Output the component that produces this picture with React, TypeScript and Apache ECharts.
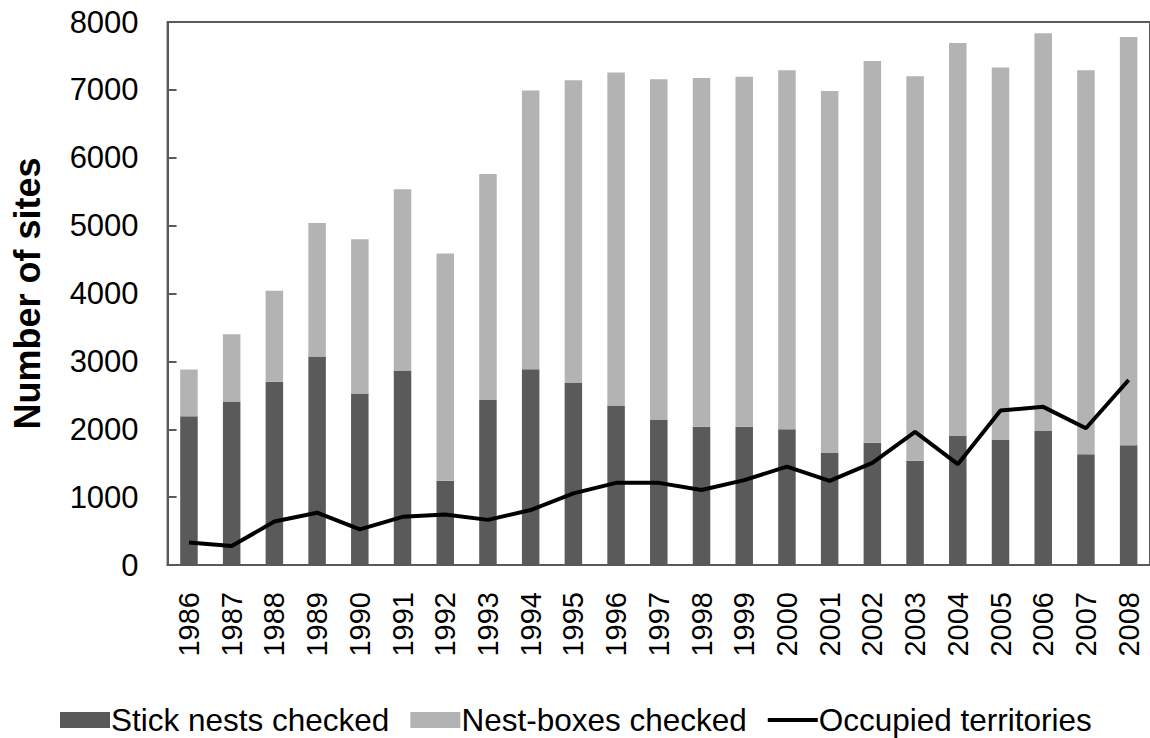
import React, { useEffect, useRef } from "react";
import * as echarts from "echarts";

const years = ["1986","1987","1988","1989","1990","1991","1992","1993","1994","1995","1996","1997","1998","1999","2000","2001","2002","2003","2004","2005","2006","2007","2008"];
const stickNests = [2190, 2410, 2700, 3070, 2525, 2865, 1240, 2430, 2885, 2680, 2350, 2145, 2035, 2035, 2000, 1650, 1800, 1535, 1900, 1840, 1975, 1630, 1765];
const nestBoxes = [690, 990, 1340, 1970, 2275, 2670, 3350, 3330, 4105, 4460, 4905, 5010, 5140, 5160, 5290, 5335, 5625, 5665, 5790, 5490, 5860, 5660, 6015];
const occupied = [330, 280, 640, 770, 525, 710, 745, 665, 810, 1055, 1210, 1210, 1105, 1250, 1450, 1240, 1505, 1960, 1485, 2275, 2330, 2015, 2725];

const FONT = "'Liberation Sans', Arial, sans-serif";
const LINE_ICON = "path://M0,0 L0.01,0 M0,6 L52,6 L52,10 L0,10 Z M0,16 L0.01,16";

export default function App() {
  const ref = useRef<HTMLDivElement>(null);
  useEffect(() => {
    if (!ref.current) return;
    const chart = echarts.init(ref.current, null, { renderer: "svg" });
    chart.setOption({
      animation: false,
      backgroundColor: "#ffffff",
      textStyle: { fontFamily: FONT, color: "#000" },
      grid: {
        left: 167.6,
        right: -2,
        top: 22,
        bottom: 173,
        show: true,
        borderColor: "#5a5a5a",
        borderWidth: 2,
        backgroundColor: "transparent",
      },
      legend: {
        left: 55,
        top: 699,
        itemWidth: 50,
        itemHeight: 16,
        itemGap: 21,
        textStyle: { fontFamily: FONT, fontSize: 31.5, color: "#000", padding: [0, 0, 0, -4] },
        data: [
          { name: "Stick nests checked", icon: "rect" },
          { name: "Nest-boxes checked", icon: "rect" },
          { name: "Occupied territories", icon: LINE_ICON, itemStyle: { color: "#000" } },
        ],
      },
      xAxis: {
        type: "category",
        data: years,
        axisLine: { lineStyle: { color: "#5a5a5a", width: 2 } },
        axisTick: { show: false },
        axisLabel: { rotate: 90, fontSize: 29, color: "#000", margin: 27, fontFamily: FONT, interval: 0 },
      },
      yAxis: {
        type: "value",
        min: 0,
        max: 8000,
        interval: 1000,
        name: "Number of sites",
        nameLocation: "middle",
        nameGap: 122,
        nameTextStyle: { fontSize: 36, fontWeight: "bold", color: "#000", fontFamily: FONT },
        axisLine: { show: true, lineStyle: { color: "#5a5a5a", width: 2 } },
        axisTick: { show: true, inside: true, length: 9, lineStyle: { color: "#5a5a5a", width: 2 } },
        splitLine: { show: false },
        axisLabel: { fontSize: 31, color: "#000", margin: 29, fontFamily: FONT, formatter: (v: number) => String(v) },
      },
      series: [
        {
          name: "Stick nests checked",
          type: "bar",
          stack: "sites",
          barWidth: 17.5,
          data: stickNests,
          itemStyle: { color: "#5a5a5a" },
        },
        {
          name: "Nest-boxes checked",
          type: "bar",
          stack: "sites",
          barWidth: 17.5,
          data: nestBoxes,
          itemStyle: { color: "#b3b3b3" },
        },
        {
          name: "Occupied territories",
          type: "line",
          data: occupied,
          symbol: "none",
          z: 5,
          lineStyle: { color: "#000", width: 4 },
          itemStyle: { color: "#000" },
        },
      ],
    });
    return () => chart.dispose();
  }, []);
  return (
    <div style={{ position: "absolute", left: 0, top: 0, width: 1150, height: 738, overflow: "hidden" }}>
      <div ref={ref} style={{ width: 1150, height: 738 }} />
    </div>
  );
}
